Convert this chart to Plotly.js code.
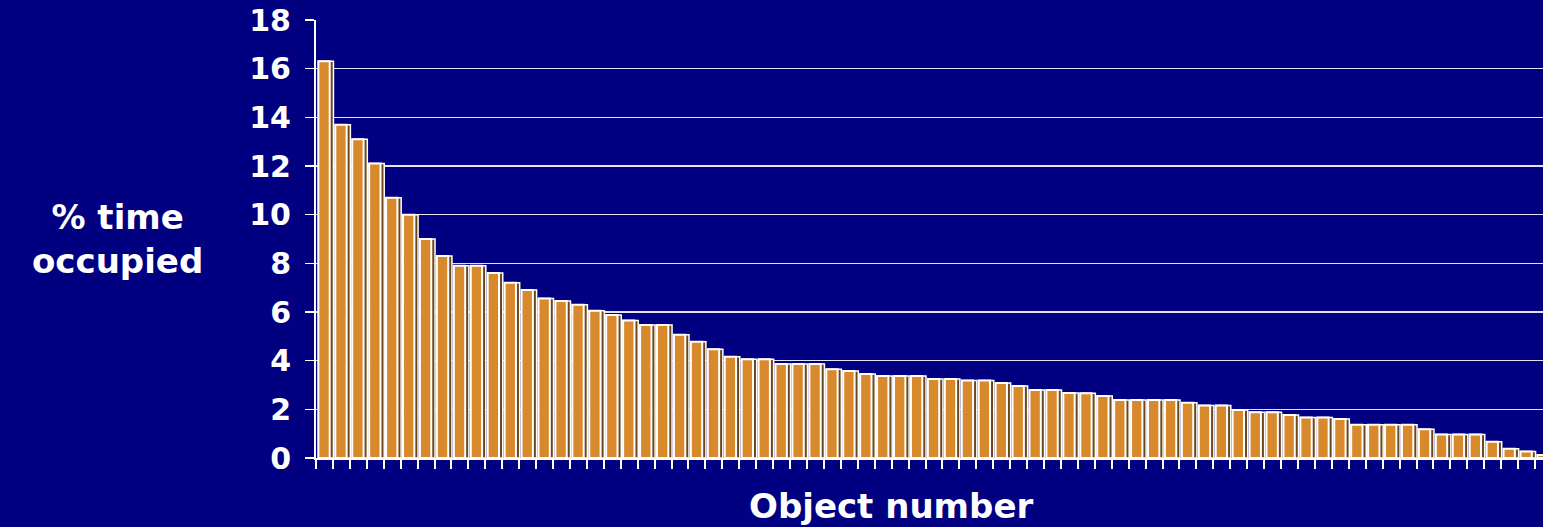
<!DOCTYPE html>
<html>
<head>
<meta charset="utf-8">
<script src="https://cdn.plot.ly/plotly-3.0.1.min.js"></script>
<style>
  html, body { margin: 0; padding: 0; background: #000080; }
  #chart { width: 1543px; height: 527px; }
</style>
</head>
<body>
<div id="chart"></div>
<script>
// Object numbers (x categories)
const objectNumbers = [
  1, 2, 3, 4, 5, 6, 7, 8, 9, 10,
  11, 12, 13, 14, 15, 16, 17, 18, 19, 20,
  21, 22, 23, 24, 25, 26, 27, 28, 29, 30,
  31, 32, 33, 34, 35, 36, 37, 38, 39, 40,
  41, 42, 43, 44, 45, 46, 47, 48, 49, 50,
  51, 52, 53, 54, 55, 56, 57, 58, 59, 60,
  61, 62, 63, 64, 65, 66, 67, 68, 69, 70,
  71, 72, 73
];

// % time occupied per object
const pctTimeOccupied = [
  16.3, 13.7, 13.1, 12.1, 10.7, 10.0, 9.0, 8.3, 7.9, 7.9,
  7.6, 7.2, 6.9, 6.55, 6.45, 6.3, 6.05, 5.88, 5.65, 5.47,
  5.47, 5.06, 4.78, 4.47, 4.16, 4.06, 4.06, 3.86, 3.86, 3.86,
  3.65, 3.58, 3.45, 3.37, 3.37, 3.37, 3.25, 3.25, 3.18, 3.18,
  3.08, 2.96, 2.79, 2.79, 2.67, 2.66, 2.55, 2.38, 2.38, 2.38,
  2.38, 2.27, 2.16, 2.16, 1.97, 1.88, 1.88, 1.77, 1.66, 1.66,
  1.6, 1.37, 1.37, 1.37, 1.37, 1.18, 0.97, 0.97, 0.97, 0.67,
  0.38, 0.27, 0.12
];

const yTickValues = [0, 2, 4, 6, 8, 10, 12, 14, 16, 18];
const yTickLabels = ["0", "2", "4", "6", "8", "10", "12", "14", "16", "18"];

const yTitleText = "% time<br>occupied";
const xTitleText = "Object number";

const FONT = "DejaVu Sans, Liberation Sans, Arial, sans-serif";

// side face (3D look) drawn behind the front face
const sideTrace = {
  type: "bar",
  x: objectNumbers,
  y: pctTimeOccupied,
  width: 0.89,
  offset: -0.36,
  marker: { color: "#6B4619", line: { color: "#FFFFFF", width: 1.5 } },
  hoverinfo: "skip"
};

const frontTrace = {
  type: "bar",
  x: objectNumbers,
  y: pctTimeOccupied,
  width: 0.67,
  offset: -0.36,
  marker: { color: "#D8892C", line: { color: "#FFFFFF", width: 2 } },
  hoverinfo: "x+y"
};

const layout = {
  width: 1543,
  height: 527,
  margin: { l: 316, r: 0, t: 20, b: 69, pad: 0 },
  paper_bgcolor: "#000080",
  plot_bgcolor: "#000080",
  showlegend: false,
  barmode: "overlay",
  font: { family: FONT, color: "#FFFFFF" },
  xaxis: {
    range: [0.5, 72.97],
    tickmode: "linear",
    tick0: 0.5,
    dtick: 1,
    ticks: "outside",
    ticklen: 9,
    tickwidth: 2,
    tickcolor: "#FFFFFF",
    showticklabels: false,
    showgrid: false,
    zeroline: false,
    showline: true,
    linecolor: "#FFFFFF",
    linewidth: 2
  },
  yaxis: {
    range: [0, 18],
    tickmode: "array",
    tickvals: yTickValues,
    ticktext: yTickLabels,
    ticks: "outside",
    ticklen: 9,
    tickwidth: 1.5,
    tickcolor: "#FFFFFF",
    ticklabelstandoff: 8,
    tickfont: { family: FONT, size: 30, color: "#FFFFFF", weight: "bold" },
    showgrid: true,
    gridcolor: "rgba(240,240,255,0.95)",
    gridwidth: 1.5,
    zeroline: false,
    showline: true,
    linecolor: "#FFFFFF",
    linewidth: 2
  },
  annotations: [
    {
      text: yTitleText,
      xref: "paper", yref: "paper",
      x: -0.1614, y: 0.5,
      xanchor: "center", yanchor: "middle",
      showarrow: false,
      align: "center",
      font: { family: FONT, size: 34, color: "#FFFFFF", weight: "bold" }
    },
    {
      text: xTitleText,
      xref: "paper", yref: "paper",
      x: 0.4686, y: -0.1565,
      xanchor: "center", yanchor: "bottom",
      borderpad: 0,
      showarrow: false,
      font: { family: FONT, size: 34, color: "#FFFFFF", weight: "bold" }
    }
  ]
};

Plotly.newPlot("chart", [sideTrace, frontTrace], layout, { displayModeBar: false, staticPlot: true });
</script>
</body>
</html>
